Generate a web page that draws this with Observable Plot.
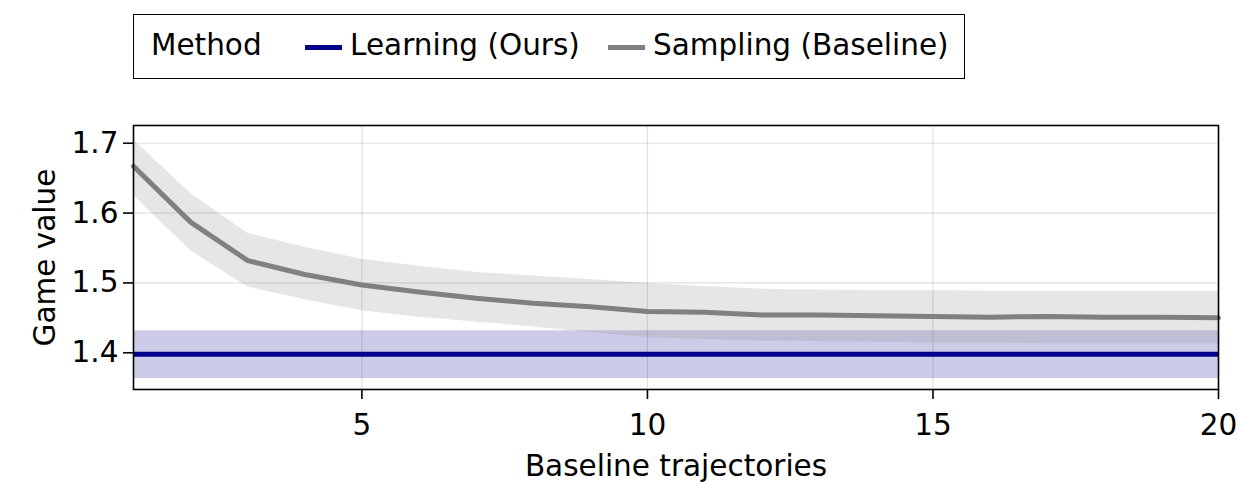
<!DOCTYPE html>
<html>
<head>
<meta charset="utf-8">
<script src="https://cdn.jsdelivr.net/npm/d3@7"></script>
<script src="https://cdn.jsdelivr.net/npm/@observablehq/plot@0.6"></script>
<style>
  html, body { margin: 0; padding: 0; background: white; }
  body { width: 1240px; height: 482px; overflow: hidden; font-family: "DejaVu Sans", sans-serif; }
  #legend { position: relative; width: 1240px; height: 110px; }
  #legend .box { position: absolute; left: 133px; top: 14px; width: 830px; height: 63px; border: 1.6px solid black; box-sizing: content-box; }
  #legend .t { position: absolute; top: -1px; line-height: 63px; font-size: 29.5px; color: black; white-space: nowrap; }
  #legend .sw { position: absolute; top: 30px; height: 5px; width: 37px; }
</style>
</head>
<body>
<div id="legend"></div>
<div id="chart"></div>
<script>
// ---- data ----
const trajectories = [1,2,3,4,5,6,7,8,9,10,11,12,13,14,15,16,17,18,19,20];
const samplingMean = [1.667,1.587,1.532,1.512,1.497,1.487,1.478,1.471,1.466,1.459,1.458,1.454,1.454,1.453,1.452,1.451,1.452,1.451,1.451,1.450];
const samplingHigh = [1.705,1.628,1.571,1.551,1.534,1.524,1.515,1.510,1.505,1.499,1.495,1.491,1.490,1.489,1.489,1.488,1.488,1.488,1.488,1.488];
const samplingLow  = [1.625,1.546,1.494,1.476,1.460,1.451,1.444,1.437,1.429,1.422,1.419,1.417,1.416,1.415,1.414,1.414,1.413,1.413,1.413,1.413];
const learningMean = 1.398;
const learningLow = 1.363;
const learningHigh = 1.4315;
const methods = ["Learning (Ours)", "Sampling (Baseline)"];
const methodColors = ["#00008b", "#808080"];
const xTicks = [5, 10, 15, 20];
const yTicks = [1.4, 1.5, 1.6, 1.7];

const sampling = trajectories.map((t, i) => ({t, mean: samplingMean[i], lo: samplingLow[i], hi: samplingHigh[i]}));

// ---- legend ----
const legend = document.getElementById("legend");
const box = document.createElement("div");
box.className = "box";
legend.appendChild(box);
const addText = (txt, left) => { const s = document.createElement("span"); s.className = "t"; s.textContent = txt; s.style.left = left + "px"; box.appendChild(s); };
const addSwatch = (color, left) => { const s = document.createElement("span"); s.className = "sw"; s.style.background = color; s.style.left = left + "px"; box.appendChild(s); };
addText("Method", 17);
addSwatch(methodColors[0], 171);
addText(methods[0], 216);
addSwatch(methodColors[1], 474);
addText(methods[1], 519);

// ---- chart ----
const chart = Plot.plot({
  width: 1240,
  height: 372,
  marginLeft: 133,
  marginRight: 22,
  marginTop: 15,
  marginBottom: 93,
  style: {fontFamily: "DejaVu Sans", fontSize: "29.5px", color: "black", background: "white"},
  x: {domain: [1, 20]},
  y: {domain: [1.3474, 1.7254]},
  marks: [
    Plot.gridX(xTicks, {stroke: "black", strokeOpacity: 0.12, strokeWidth: 1.2}),
    Plot.gridY(yTicks, {stroke: "black", strokeOpacity: 0.12, strokeWidth: 1.2}),
    Plot.rect([0], {y1: () => learningLow, y2: () => learningHigh, fill: methodColors[0], fillOpacity: 0.2}),
    Plot.areaY(sampling, {x: "t", y1: "lo", y2: "hi", fill: methodColors[1], fillOpacity: 0.2}),
    Plot.ruleY([learningMean], {stroke: methodColors[0], strokeWidth: 5}),
    Plot.line(sampling, {x: "t", y: "mean", stroke: methodColors[1], strokeWidth: 5}),
    Plot.frame({stroke: "black", strokeWidth: 1.6}),
    Plot.axisX(xTicks, {tickSize: 10, tickPadding: 15, strokeWidth: 1.6, label: null, tickFormat: d => String(d)}),
    Plot.axisY(yTicks, {tickSize: 10, tickPadding: 5, strokeWidth: 1.6, label: null, tickFormat: d3.format(".1f")}),
    Plot.text(["Baseline trajectories"], {frameAnchor: "bottom", dy: 77, lineAnchor: "middle", fontSize: 29.5}),
    Plot.text(["Game value"], {frameAnchor: "left", dx: -88, rotate: -90, lineAnchor: "middle", textAnchor: "middle", fontSize: 29.5})
  ]
});
document.getElementById("chart").appendChild(chart);
</script>
</body>
</html>
